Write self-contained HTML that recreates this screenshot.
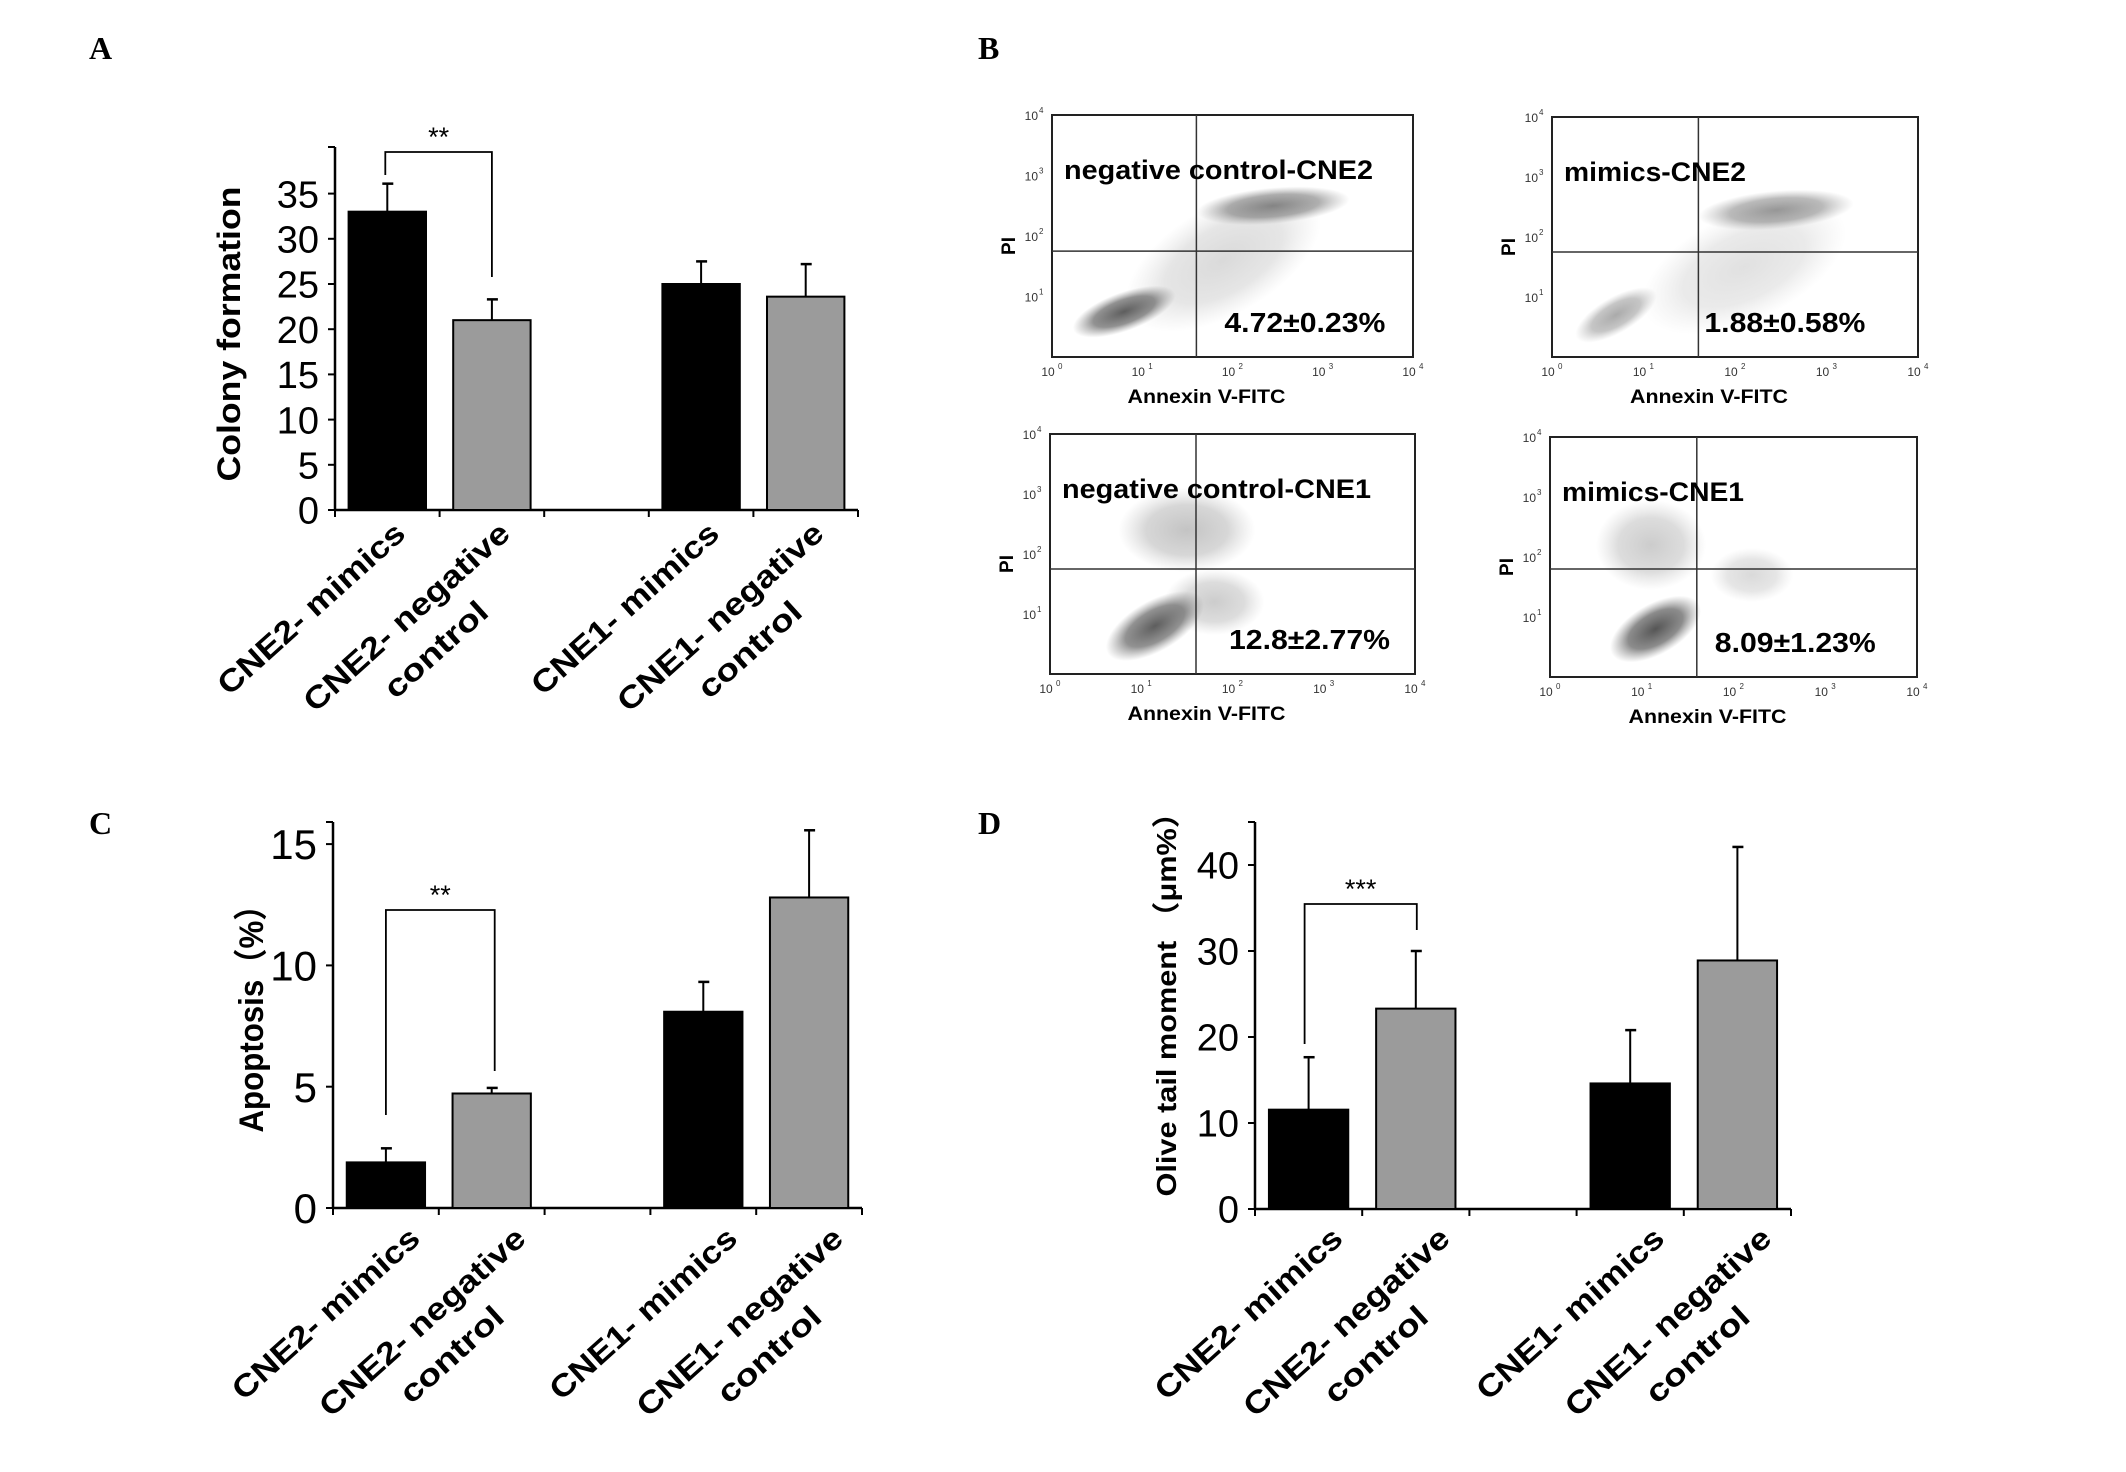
<!DOCTYPE html>
<html><head><meta charset="utf-8">
<style>
html,body{margin:0;padding:0;background:#fff;}
svg{display:block;}
text{font-family:"Liberation Sans","Noto Sans CJK SC",sans-serif;}
.serif{font-family:"Liberation Serif",serif;font-weight:bold;}
.tick{font-family:"Liberation Sans Narrow","Liberation Sans",sans-serif;}
</style></head>
<body>
<svg id="fig" xmlns="http://www.w3.org/2000/svg" width="2126" height="1472" viewBox="0 0 2126 1472">
<text class="serif" x="89" y="59" font-size="32">A</text>
<text class="serif" x="978" y="59" font-size="32">B</text>
<text class="serif" x="89" y="834" font-size="32">C</text>
<text class="serif" x="978" y="834" font-size="32">D</text>
</svg>
<script>
const categories = ["CNE2- mimics", "CNE2- negative|control", "CNE1- mimics", "CNE1- negative|control"];
const slotIndex = [0, 1, 3, 4];
const barColors = ["#000000", "#9b9b9b", "#000000", "#9b9b9b"];
const colonyValues = [33, 21, 25, 23.6];
const colonyErrors = [3.1, 2.3, 2.5, 3.6];
const colonyTicks = [0, 5, 10, 15, 20, 25, 30, 35];
const apoptosisValues = [1.88, 4.72, 8.09, 12.8];
const apoptosisErrors = [0.58, 0.23, 1.23, 2.77];
const apoptosisTicks = [0, 5, 10, 15];
const tailValues = [11.55, 23.3, 14.6, 28.9];
const tailErrors = [6.1, 6.7, 6.2, 13.2];
const tailTicks = [0, 10, 20, 30, 40];
const flowTitles = ["negative control-CNE2", "mimics-CNE2", "negative control-CNE1", "mimics-CNE1"];
const flowPercents = ["4.72±0.23%", "1.88±0.58%", "12.8±2.77%", "8.09±1.23%"];
// cluster [logX, logY, rx(log), ry(log), opacity, rotation deg] per plot
const flowClusters = [
  [[1.9,1.6,1.2,0.9,0.22,-30],[0.8,0.75,0.6,0.32,0.95,-20],[2.45,2.5,0.85,0.3,0.7,-5]],
  [[2.1,1.5,1.2,0.9,0.18,-25],[0.7,0.7,0.5,0.3,0.5,-30],[2.45,2.45,0.85,0.32,0.6,-5]],
  [[1.5,2.4,0.75,0.7,0.35,0],[1.8,1.2,0.55,0.55,0.3,0],[1.15,0.8,0.6,0.42,0.95,-30]],
  [[1.1,2.2,0.6,0.75,0.3,0],[2.2,1.7,0.45,0.45,0.22,0],[1.15,0.8,0.55,0.42,1,-30]]
];
const flowFrames = [[1052,115,1413,357],[1552,117,1918,357],[1050,434,1415,674],[1550,437,1917,677]];
const flowGates = [[1.6,1.75],[1.6,1.75],[1.6,1.75],[1.6,1.8]];

const NS = "http://www.w3.org/2000/svg";
const svg = document.getElementById('fig');
function el(tag, attrs, parent){
  const e = document.createElementNS(NS, tag);
  for (const k in attrs) e.setAttribute(k, attrs[k]);
  (parent||svg).appendChild(e);
  return e;
}
const defs = el('defs', {});
const rg = el('radialGradient', {id:'cloud'}, defs);
el('stop', {offset:'0', 'stop-color':'#555', 'stop-opacity':'1'}, rg);
el('stop', {offset:'0.6', 'stop-color':'#666', 'stop-opacity':'0.75'}, rg);
el('stop', {offset:'1', 'stop-color':'#888', 'stop-opacity':'0'}, rg);

function barChart(cfg, name){
  const g = el('g', {});
  
  
  const y = v => cfg.yBase - v * cfg.ppu;
  const slotW = (cfg.xEnd - cfg.x0) / 5;
  const bw = slotW * 0.74;
  const ya = el('line', {x1:cfg.x0, y1:cfg.yTop, x2:cfg.x0, y2:cfg.yBase, stroke:'#000', 'stroke-width':2.5}, g);
  
  
  const xa = el('line', {x1:cfg.x0, y1:cfg.yBase, x2:cfg.xEnd, y2:cfg.yBase, stroke:'#000', 'stroke-width':2.5}, g);
  
  
  el('line', {x1:cfg.x0-7, y1:cfg.yTop, x2:cfg.x0, y2:cfg.yTop, stroke:'#000', 'stroke-width':2}, g);
  for (let i = 0; i <= 5; i++) {
    const tx = cfg.x0 + i * slotW;
    el('line', {x1:tx, y1:cfg.yBase, x2:tx, y2:cfg.yBase+7, stroke:'#000', 'stroke-width':2}, g);
  }
  cfg.ticks.forEach(t => {
    el('line', {x1:cfg.x0-7, y1:y(t), x2:cfg.x0, y2:y(t), stroke:'#000', 'stroke-width':2}, g);
    const tl = el('text', {x:cfg.x0-16, y:y(t)+cfg.tickFont*0.36, 'text-anchor':'end', 'font-size':cfg.tickFont, class:'tick'}, g);
    tl.textContent = t;
    
    
  });
  cfg.values.forEach((v, i) => {
    const cx = cfg.x0 + (slotIndex[i] + 0.5) * slotW;
    const et = y(v + cfg.errors[i]);
    const eb = el('line', {x1:cx, y1:y(v), x2:cx, y2:et, stroke:'#000', 'stroke-width':2}, g);
    
    
    el('line', {x1:cx-5, y1:et, x2:cx+6, y2:et, stroke:'#000', 'stroke-width':2.5}, g);
    const r = el('rect', {x:cx-bw/2, y:y(v), width:bw, height:v*cfg.ppu, fill:barColors[i], stroke:'#000', 'stroke-width':2}, g);
    
    
    const lines = categories[i].split('|');
    const lg = el('g', {transform:`translate(${cx+cfg.lx},${cfg.yBase+cfg.ly}) rotate(-42)`}, g);
    
    
    const w1 = lines[0].length > 13 ? 265 : 240;
    const t1 = el('text', {x:0, y:0, 'text-anchor':'end', 'font-size':31, 'font-weight':'bold', textLength:w1, lengthAdjust:'spacingAndGlyphs'}, lg);
    t1.textContent = lines[0];
    if (lines[1]) {
      const t2 = el('text', {x:-w1/2, y:44, 'text-anchor':'middle', 'font-size':31, 'font-weight':'bold', textLength:128, lengthAdjust:'spacingAndGlyphs'}, lg);
      t2.textContent = lines[1];
    }
  });
  const b = cfg.br;
  const bx1 = cfg.x0 + 0.5*slotW + b.dx1, bx2 = cfg.x0 + 1.5*slotW + b.dx2;
  const p = el('path', {d:`M${bx1},${b.l} V${b.top} H${bx2} V${b.r}`, fill:'none', stroke:'#000', 'stroke-width':1.8}, g);
  
  
  const st = el('text', {x:(bx1+bx2)/2, y:b.top-6, 'text-anchor':'middle', 'font-size':27}, g);
  st.textContent = b.stars;
  
  
  const yt = el('text', {transform:`translate(${cfg.tx},${cfg.ty}) rotate(-90)`, 'text-anchor':'middle', 'font-size':cfg.titleFont, 'font-weight':cfg.titleWeight, textLength:cfg.titleLen, lengthAdjust:'spacingAndGlyphs'}, g);
  yt.textContent = cfg.title;
  
  
}

barChart({x0:335, xEnd:858, yBase:510, yTop:147, ppu:9.04, ticks:colonyTicks, tickFont:38,
  values:colonyValues, errors:colonyErrors, lx:20, ly:26,
  br:{dx1:-2, dx2:0, top:152, l:175, r:277, stars:'**'},
  tx:240, ty:334, title:'Colony formation', titleFont:32, titleWeight:'bold', titleLen:295}, 'colony-formation-chart');

barChart({x0:333, xEnd:862, yBase:1208, yTop:822, ppu:24.26, ticks:apoptosisTicks, tickFont:42,
  values:apoptosisValues, errors:apoptosisErrors, lx:36, ly:33,
  br:{dx1:0, dx2:3, top:910, l:1115, r:1071, stars:'**'},
  tx:263, ty:1011, title:'Apoptosis（%）', titleFont:34, titleWeight:'bold', titleLen:243}, 'apoptosis-chart');

barChart({x0:1255, xEnd:1791, yBase:1209, yTop:822, ppu:8.6, ticks:tailTicks, tickFont:38,
  values:tailValues, errors:tailErrors, lx:36, ly:32,
  br:{dx1:-4, dx2:1, top:904, l:1044, r:930, stars:'***'},
  tx:1176, ty:997, title:'Olive  tail moment （μm%）', titleFont:28, titleWeight:'bold', titleLen:399}, 'olive-tail-moment-chart');

flowFrames.forEach((f, k) => {
  const [x1, y1, x2, y2] = f;
  const g = el('g', {});
  
  
  const sx = v => x1 + v/4*(x2-x1);
  const sy = v => y2 - v/4*(y2-y1);
  const clip = el('clipPath', {id:'clip'+k}, defs);
  el('rect', {x:x1, y:y1, width:x2-x1, height:y2-y1}, clip);
  const cg = el('g', {'clip-path':`url(#clip${k})`}, g);
  flowClusters[k].forEach(c => {
    const e = el('ellipse', {cx:sx(c[0]), cy:sy(c[1]), rx:c[2]/4*(x2-x1), ry:c[3]/4*(y2-y1), fill:'url(#cloud)', opacity:c[4],
      transform:`rotate(${c[5]} ${sx(c[0])} ${sy(c[1])})`}, cg);
    
    
  });
  el('rect', {x:x1, y:y1, width:x2-x1, height:y2-y1, fill:'none', stroke:'#222', 'stroke-width':2}, g);
  el('line', {x1:sx(flowGates[k][0]), y1:y1, x2:sx(flowGates[k][0]), y2:y2, stroke:'#333', 'stroke-width':1.5}, g);
  el('line', {x1:x1, y1:sy(flowGates[k][1]), x2:x2, y2:sy(flowGates[k][1]), stroke:'#333', 'stroke-width':1.5}, g);
  for (let i = 0; i <= 4; i++) {
    el('text', {x:sx(i)-4, y:y2+19, 'font-size':12, fill:'#333', 'text-anchor':'middle'}, g).textContent = '10';
    el('text', {x:sx(i)+6, y:y2+12, 'font-size':8, fill:'#333'}, g).textContent = i;
    if (i > 0) {
      el('text', {x:x1-14, y:sy(i)+5, 'font-size':12, fill:'#333', 'text-anchor':'end'}, g).textContent = '10';
      el('text', {x:x1-13, y:sy(i)-2, 'font-size':8, fill:'#333'}, g).textContent = i;
    }
  }
  const t = el('text', {x:x1+12, y:y1+64, 'font-size':27, 'font-weight':'bold', textLength:k%2 ? 182 : 309, lengthAdjust:'spacingAndGlyphs'}, g);
  t.textContent = flowTitles[k];
  
  
  const pc = el('text', {x:sx(flowGates[k][0])+(k==3?18:k==2?33:k==1?6:28), y:y2-25, 'font-size':28, 'font-weight':'bold', textLength:161, lengthAdjust:'spacingAndGlyphs'}, g);
  pc.textContent = flowPercents[k];
  
  
  const ax = el('text', {x:(x1+x2)/2-26, y:y2+46, 'text-anchor':'middle', 'font-size':19, 'font-weight':'bold', textLength:158, lengthAdjust:'spacingAndGlyphs'}, g);
  ax.textContent = 'Annexin V-FITC';
  
  
  const pi = el('text', {transform:`translate(${x1-37},${(y1+y2)/2+10}) rotate(-90)`, 'text-anchor':'middle', 'font-size':19, 'font-weight':'bold'}, g);
  pi.textContent = 'PI';
  
  
});
</script>
</body></html>
